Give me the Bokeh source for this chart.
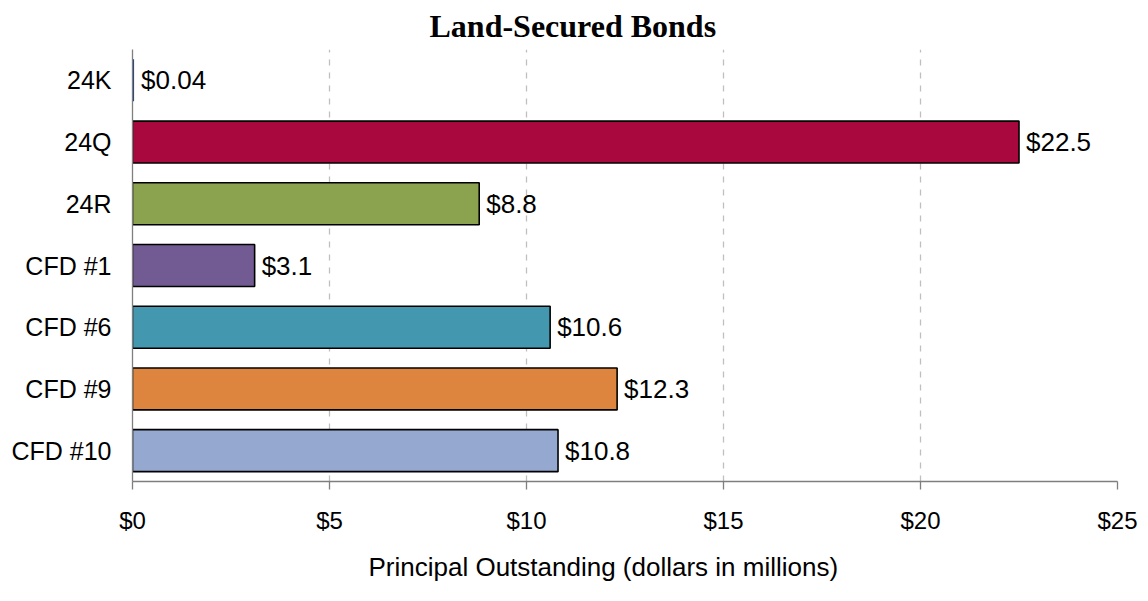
from bokeh.plotting import figure
from bokeh.models import ColumnDataSource, NumeralTickFormatter, FixedTicker, Range1d, Title
from bokeh.embed import file_html
from bokeh.resources import INLINE

categories = ["24K", "24Q", "24R", "CFD #1", "CFD #6", "CFD #9", "CFD #10"]
values = [0.04, 22.5, 8.8, 3.1, 10.6, 12.3, 10.8]
labels = ["$0.04", "$22.5", "$8.8", "$3.1", "$10.6", "$12.3", "$10.8"]
colors = ["#1F3F7A", "#A8083E", "#8BA24E", "#725A92", "#4398B0", "#DD853E", "#95A9D0"]
outlines = ["rgba(0,0,0,0)", "black", "black", "black", "black", "black", "black"]
x_ticks = [0, 5, 10, 15, 20, 25]

src = ColumnDataSource(dict(cat=categories, val=values, lab=labels, col=colors, oc=outlines))

p = figure(width=1140, height=601, y_range=list(reversed(categories)),
           x_range=Range1d(0, 25), output_backend="svg", toolbar_location=None,
           title="Land-Secured Bonds",
           min_border_left=132, min_border_right=23, min_border_top=49, min_border_bottom=120)

p.title.align = "left"
p.title.text_font = "Liberation Serif"
p.title.text_font_style = "bold"
p.title.text_font_size = "32px"
p.title.text_color = "black"
p.title.offset = 297
p.title.standoff = 11

p.hbar(y="cat", right="val", left=0, height=0.68, fill_color="col",
       line_color="oc", line_width=1.6, source=src)

p.text(x="val", y="cat", text="lab", x_offset=7, text_baseline="middle",
       text_align="left", text_font_size="26px", text_font={"value": "Liberation Sans"},
       text_color="black", source=src)

p.outline_line_color = None
p.ygrid.grid_line_color = None
p.xgrid.grid_line_color = "#BFBFBF"
p.xgrid.grid_line_dash = "6 7"
p.xgrid.grid_line_width = 1.3

xa = p.xaxis[0]
xa.ticker = FixedTicker(ticks=x_ticks)
xa.formatter = NumeralTickFormatter(format="$0")
xa.axis_line_color = "#7F7F7F"
xa.axis_line_width = 1.3
xa.major_tick_line_color = "#7F7F7F"
xa.major_tick_line_width = 1.3
xa.major_tick_out = 8
xa.major_tick_in = 0
xa.minor_tick_line_color = None
xa.major_label_text_font = "Liberation Sans"
xa.major_label_text_font_size = "24px"
xa.major_label_text_color = "black"
xa.major_label_standoff = 17

xlabel = Title(text="Principal Outstanding (dollars in millions)", align="left",
               offset=236, standoff=31, vertical_align="top", text_font="Liberation Sans",
               text_font_size="26px", text_font_style="normal", text_color="black")
p.add_layout(xlabel, "below")

ya = p.yaxis[0]
ya.axis_line_color = "#7F7F7F"
ya.axis_line_width = 1.3
ya.major_tick_line_color = None
ya.minor_tick_line_color = None
ya.major_label_text_font = "Liberation Sans"
ya.major_label_text_font_size = "25px"
ya.major_label_text_color = "black"
ya.major_label_standoff = 15

open("out.html", "w").write(file_html(p, INLINE))
